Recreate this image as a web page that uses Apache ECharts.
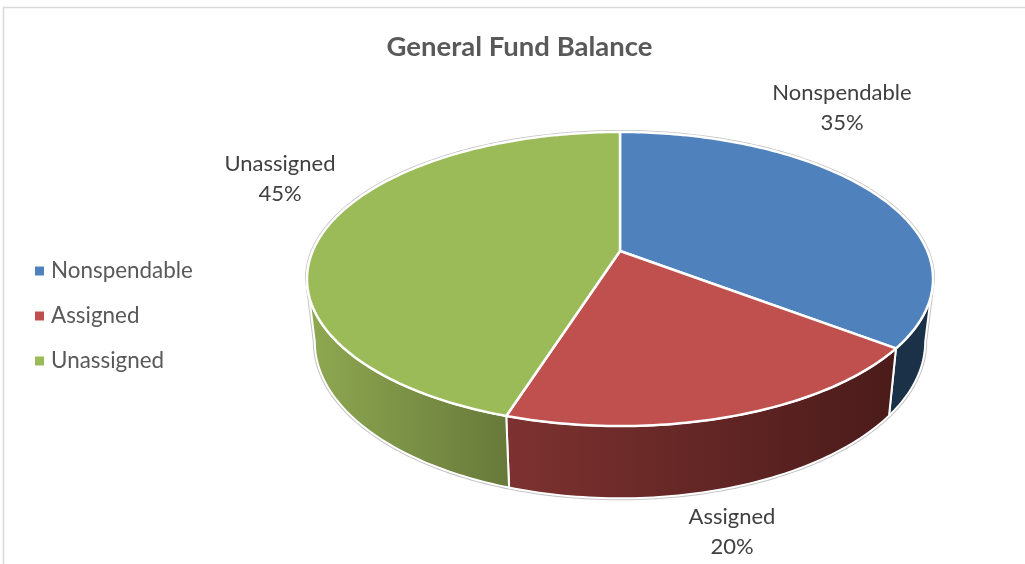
<!DOCTYPE html>
<html>
<head>
<meta charset="utf-8">
<style>
  html, body { margin: 0; padding: 0; background: #fff; }
  #chart { width: 1025px; height: 564px; }
</style>
</head>
<body>
<div id="chart"></div>
<script src="https://cdn.jsdelivr.net/npm/echarts@6/dist/echarts.min.js"></script>
<script>
// data
var categories = ["Nonspendable", "Assigned", "Unassigned"];
var values = [35.4, 19.5, 45.1];

// colours
var topColors = ["#4f81bd", "#c0504d", "#9bbb59"];
var wallLeftColors = ["#1b3148", "#7d3230", "#8fa951"];
var wallRightColors = ["#1b3148", "#4a1b1a", "#67793a"];

// where each label sits on the page
var labelPos = [[842, 108], [732, 532], [280, 179]];
var font = "Lato, 'Open Sans', sans-serif";

// perspective of the pie disc (upper face and lower face)
var upper = { cx: 620, cy: 251, a: 307.3, b: 141.7, k: 0.1905 };
var lower = { cx: 620, cy: 312, a: 299.6, b: 150.8, k: 0.1905 };
var edgeAngle = Math.acos(-upper.k) * 180 / Math.PI; // where the side wall turns out of sight

function total() {
  return values.reduce(function (s, v) { return s + v; }, 0);
}

// deg is clockwise from 12 o'clock
function project(disc, deg) {
  var r = deg * Math.PI / 180;
  var u = Math.sin(r);
  var v = -Math.cos(r);
  var d = 1 - disc.k * v;
  return [disc.cx + disc.a * u / d, disc.cy + disc.b * v / d];
}

function arc(disc, from, to) {
  var pts = [];
  var n = Math.max(2, Math.ceil(Math.abs(to - from)));
  for (var i = 0; i <= n; i++) {
    pts.push(project(disc, from + (to - from) * i / n));
  }
  return pts;
}

function renderOutline() {
  var back = arc(upper, 360 - edgeAngle, 360 + edgeAngle);
  var front = arc(lower, edgeAngle, 360 - edgeAngle);
  return {
    type: "polygon",
    shape: { points: back.concat(front) },
    style: { fill: "#fff", stroke: "#c4c4c4", lineWidth: 4, lineJoin: "round" }
  };
}

function makeRender(index) {
  return function (params, api) {
    var sum = total();
    var before = 0;
    for (var i = 0; i < index; i++) before += values[i];
    var start = before / sum * 360;
    var end = start + api.value(0) / sum * 360;
    var children = [];

    // side wall, only the part facing the viewer
    var from = Math.max(start, edgeAngle);
    var to = Math.min(end, 360 - edgeAngle);
    if (to > from) {
      children.push({
        type: "polygon",
        shape: { points: arc(upper, from, to).concat(arc(lower, to, from)) },
        style: {
          fill: {
            type: "linear", x: 0, y: 0, x2: 1, y2: 0,
            colorStops: [
              { offset: 0, color: wallLeftColors[index] },
              { offset: 1, color: wallRightColors[index] }
            ]
          },
          stroke: "#fff",
          lineWidth: 2,
          lineJoin: "round"
        }
      });
    }

    // top face
    children.push({
      type: "polygon",
      shape: { points: [[upper.cx, upper.cy]].concat(arc(upper, start, end)) },
      style: { fill: topColors[index], stroke: "#fff", lineWidth: 2.5, lineJoin: "round" }
    });

    children.push({
      type: "text",
      style: {
        text: categories[index] + "\n" + Math.round(api.value(0) / sum * 100) + "%",
        x: labelPos[index][0],
        y: labelPos[index][1],
        align: "center",
        verticalAlign: "middle",
        fontFamily: font,
        fontSize: 22,
        lineHeight: 30,
        fill: "#404040"
      }
    });
    return { type: "group", children: children };
  };
}

var series = [{
  type: "custom",
  name: "outline",
  coordinateSystem: "none",
  silent: true,
  data: [[0]],
  renderItem: renderOutline
}];
categories.forEach(function (name, i) {
  series.push({
    type: "custom",
    name: name,
    coordinateSystem: "none",
    itemStyle: { color: topColors[i] },
    data: [[values[i]]],
    renderItem: makeRender(i)
  });
});

var chart = echarts.init(document.getElementById("chart"), null, { renderer: "canvas" });
chart.setOption({
  animation: false,
  backgroundColor: "#fff",
  title: {
    text: "General Fund Balance",
    left: 514.5,
    top: 28,
    textAlign: "center",
    textStyle: { fontFamily: font, fontSize: 27.5, fontWeight: "bold", color: "#595959" }
  },
  legend: {
    data: categories,
    orient: "vertical",
    left: 30,
    top: 254,
    icon: "rect",
    itemWidth: 9,
    itemHeight: 9,
    itemGap: 21,
    selectedMode: false,
    textStyle: { fontFamily: font, fontSize: 22.4, color: "#595959", padding: [0, 0, 0, 2], height: 24, lineHeight: 24 }
  },
  graphic: [{
    type: "rect",
    silent: true,
    shape: { x: 3.5, y: 7.5, width: 1040, height: 580 },
    style: { fill: "none", stroke: "#d9d9d9", lineWidth: 1.5 }
  }],
  series: series
});
</script>
</body>
</html>
